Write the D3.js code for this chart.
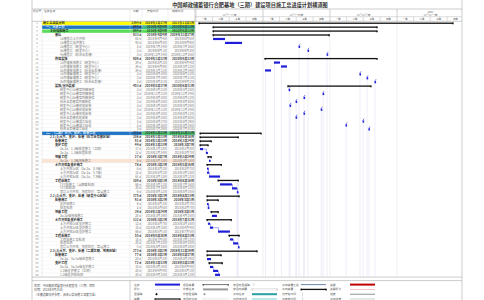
<!DOCTYPE html>
<html>
<head>
<meta charset="utf-8">
<script src="https://cdn.jsdelivr.net/npm/d3@7"></script>
<style>
  body { margin: 0; background: #fff; }
  svg { display: block; font-family: "Noto Sans CJK SC", "Noto Sans", sans-serif; }
</style>
</head>
<body>
<script>
// task table, one entry per row
const taskNames = [
  '施工总进度计划', '一、土建工程', '主体结构施工', '基坑',
  '1#楼基坑土方开挖', '1#楼基坑支护施工', '2#楼基坑（研发中心）', '3#楼基坑（研发中心）', '4#楼基坑（综合业务楼）',
  '外墙装饰', '1#外墙装饰施工（研发中心）', '2#外墙装饰施工（研发中心）', '3#外墙装饰施工（综合业务楼）',
  '1#外墙幕墙施工（研发中心）', '2#外墙幕墙施工（研发中心）', '3#外墙幕墙施工（综合业务楼）',
  '装饰/室内装修', '研发中心1#楼室内精装修', '研发中心2#楼室内精装修', '研发中心3#楼室内精装修', '综合业务楼室内精装修',
  '研发中心1#楼机电安装', '研发中心2#楼机电安装', '研发中心3#楼机电安装', '综合业务楼机电安装',
  '研发中心1#楼竣工验收', '研发中心2#楼竣工验收', '综合业务楼竣工验收',
  '二、（二期）土方、支护、桩基工程', '2.1 (1)土方、支护、桩基（综合业务楼区域）', '桩基施工', '支护工程',
  '3a-3a、1-3轴桩基施工（北侧）', '3a-3a、1-3轴桩基检测', '地板工程', '3a-3a、1-3轴地板施工',
  '土方开挖及支护施工', '土方开挖1#区（3a-3a、3-5轴）', '土方开挖2#区（3a-3a、5-7轴）', '土方开挖3#区（3a-3a、7-9轴）',
  '工程桩施工', 'CFG桩施工（含静载检测）', 'CFG桩检测', '基坑土方开挖、地基处理、垫层施工',
  '2.2 (2)土方、支护、桩基（研发中心区域）', '桩基施工', '支护桩施工', '桩基检测', '地板工程', '3a-3a轴地板施工',
  '土方开挖及支护施工', '土方开挖1#区支护施工', '土方开挖2#区支护施工', '土方开挖3#区支护施工',
  '工程桩施工', '工程桩施工及检测', '桩基检测', '基坑土方开挖、地基处理、垫层施工',
  '2.3 (3)土方、支护、桩基（二期北侧、地库区域）', '桩基施工', '3a-3a、5a-5a轴桩基施工', '支护工程',
  '3a-3a、5a-5a轴支护施工', '1-3轴支护施工（北侧）', '1-3轴支护桩检测'
];
const taskLevels = [
  0, 1, 2, 3, 4, 4, 4, 4, 4, 3, 4, 4, 4, 4, 4, 4, 3, 4, 4, 4, 4, 4, 4, 4, 4, 4, 4, 4,
  1, 2, 3, 3, 4, 4, 3, 4, 3, 4, 4, 4, 3, 4, 4, 4,
  2, 3, 4, 4, 3, 4, 3, 4, 4, 4, 3, 4, 4, 4,
  2, 3, 4, 3, 4, 4, 4
];
const durations = [
  1364, 894, 894, 633, 65, 93, 3, 3, 3, 606, 34, 34, 34, 3, 3, 3, 453,
  3, 3, 3, 3, 3, 3, 3, 3, 3, 3, 3,
  333, 208, 61, 44, 17, 12, 17, 6, 78, 6, 12, 61, 109, 66, 28, 6,
  175, 61, 6, 2, 39, 28, 132, 12, 18, 66, 55, 18, 28, 5,
  273, 77, 23, 72, 18, 28, 28
];
const starts = [
  '2018-01-17', '2018-04-04', '2018-04-04', '2018-04-04', '2018-04-04', '2018-06-08',
  '2019-07-14', '2019-09-01', '2019-12-14', '2019-01-12', '2019-03-02', '2019-04-09', '2019-01-12',
  '2020-06-10', '2020-07-19', '2020-08-31', '2019-05-17',
  '2019-05-21', '2019-11-22', '2019-08-10', '2019-06-28', '2019-05-26', '2019-11-12', '2019-08-10', '2019-06-28',
  '2020-06-27', '2020-03-26', '2020-07-29',
  '2018-01-23', '2018-01-23', '2018-01-23', '2018-01-23', '2018-01-23', '2018-02-24', '2018-03-07', '2018-03-13',
  '2018-03-02', '2018-03-02', '2018-03-02', '2018-03-13', '2018-05-01', '2018-05-12', '2018-07-16', '2018-08-12',
  '2018-03-02', '2018-03-02', '2018-03-02', '2018-03-06', '2018-03-24', '2018-03-29', '2018-03-02', '2018-03-07',
  '2018-03-18', '2018-05-01', '2018-06-30', '2018-07-05', '2018-07-22', '2018-08-18',
  '2018-03-02', '2018-03-02', '2018-03-02', '2018-03-13', '2018-03-18', '2018-04-04', '2018-04-15'
];
const finishes = [
  '2021-11-01', '2020-09-13', '2020-09-13', '2019-12-27', '2018-06-08', '2018-09-09',
  '2019-07-16', '2019-09-03', '2019-12-16', '2020-09-13', '2019-04-04', '2019-05-12', '2019-02-14',
  '2020-06-12', '2020-07-21', '2020-09-02', '2020-08-11',
  '2019-05-23', '2019-11-24', '2019-08-12', '2019-06-30', '2019-05-28', '2019-11-14', '2019-08-12', '2019-06-30',
  '2020-06-29', '2020-03-28', '2020-07-31',
  '2018-12-21', '2018-08-18', '2018-03-24', '2018-03-07', '2018-02-08', '2018-03-07', '2018-03-24', '2018-03-18',
  '2018-05-18', '2018-03-07', '2018-03-13', '2018-05-12', '2018-08-18', '2018-07-16', '2018-08-12', '2018-08-18',
  '2018-08-23', '2018-05-01', '2018-03-07', '2018-03-07', '2018-05-01', '2018-04-25', '2018-07-11', '2018-03-18',
  '2018-04-04', '2018-07-05', '2018-08-23', '2018-07-22', '2018-08-18', '2018-08-23',
  '2018-11-29', '2018-05-17', '2018-03-24', '2018-05-23', '2018-04-04', '2018-05-01', '2018-05-12'
];
// 1-based row numbers of summary rows
const summaryRows = [1, 2, 3, 4, 10, 17, 29, 30, 31, 32, 35, 37, 41, 45, 46, 49, 51, 55, 59, 60, 62];
// rows whose start drops a link line to the bottom of the chart
const dropRows = [7, 8, 9, 11, 12, 13, 14, 15, 16, 18, 19, 20, 21, 22, 23, 24, 25, 26, 27, 28];

const yearLabels = ['二〇一八年', '二〇一九年', '二〇二〇年', '二〇二一年'];
const quarterLabels = ['一季', '二季', '三季', '四季'];

const legendLabels = [
  ['任务', '拆分', '里程碑', '摘要'],
  ['项目摘要', '外部任务', '外部里程碑', '非活动任务'],
  ['非活动里程碑', '非活动摘要', '手动任务', '仅持续时间'],
  ['手动摘要汇总', '手动摘要', '仅开始时间', '仅完成时间'],
  ['关键', '关键拆分', '进度', '手动进度']
];
const legendKinds = [
  ['task', 'split', 'mile', 'summary'],
  ['psummary', 'ext', 'extmile', 'inact'],
  ['inactmile', 'inactsum', 'manual', 'duronly'],
  ['manualroll', 'manualsum', 'startonly', 'finishonly'],
  ['critical', 'critsplit', 'progress', 'manualprog']
];
const footNotes = ['项目：中国邮政储蓄银行合肥基地（三期）项目', '日期：2018年9月25日', '（本横道图仅供参考，具体以实际施工进度为准）'];

const W = 484, H = 300;
const L = 32, R = 462;
const colX = { id: 42, name: 130, dur: 142, start: 168, gantt: 195 };
const bodyTop = 21.3, bodyBottom = 276.8;

const parse = d3.timeParse('%Y-%m-%d');
const fmtDate = d => `${d.getFullYear()}年${d.getMonth() + 1}月${d.getDate()}日`;

const rows = taskNames.map((name, i) => ({
  row: i + 1,
  name: name,
  level: taskLevels[i],
  dur: durations[i],
  start: parse(starts[i]),
  end: parse(finishes[i]),
  summary: summaryRows.includes(i + 1)
}));

const x = d3.scaleTime()
  .domain([new Date(2018, 0, 1), new Date(2022, 0, 1)])
  .range([196, 464]);

const y = d3.scaleBand()
  .domain(rows.map(d => d.row))
  .range([bodyTop, bodyBottom]);

const svg = d3.select('body').append('svg')
  .attr('width', W).attr('height', H);

svg.append('defs').append('clipPath').attr('id', 'gclip')
  .append('rect').attr('x', colX.gantt).attr('y', 0).attr('width', R - colX.gantt).attr('height', H);

// title
svg.append('text')
  .attr('x', 250).attr('y', 6.8)
  .attr('text-anchor', 'middle')
  .attr('font-size', 5.2).attr('font-weight', 'bold').attr('fill', '#333')
  .text('中国邮政储蓄银行合肥基地（三期）建设项目施工总进度计划横道图');

// row backgrounds
const rowFill = { 1: '#ffff00', 2: '#1f74c4', 3: '#5bdc5b', 29: '#1f74c4', 36: '#fbe4d4' };
const dateFill = { 2: '#38b98a', 29: '#45c46a' };
rows.filter(d => rowFill[d.row]).forEach(d => {
  svg.append('rect')
    .attr('x', colX.id).attr('y', y(d.row) + 0.2)
    .attr('width', colX.gantt - colX.id).attr('height', y.bandwidth() - 0.4)
    .attr('fill', rowFill[d.row]);
  if (dateFill[d.row]) {
    svg.append('rect')
      .attr('x', colX.dur).attr('y', y(d.row) + 0.2)
      .attr('width', colX.gantt - colX.dur).attr('height', y.bandwidth() - 0.4)
      .attr('fill', dateFill[d.row]);
  }
});

// table row lines
svg.append('g').selectAll('line')
  .data(rows)
  .join('line')
  .attr('x1', L).attr('x2', colX.gantt)
  .attr('y1', d => y(d.row) + y.bandwidth()).attr('y2', d => y(d.row) + y.bandwidth())
  .attr('stroke', '#e8e8e8').attr('stroke-width', 0.3);

// year grid in gantt body
const years = d3.timeYear.range(new Date(2019, 0, 1), new Date(2022, 0, 1));
svg.append('g').attr('clip-path', 'url(#gclip)').selectAll('line')
  .data(years)
  .join('line')
  .attr('x1', d => x(d)).attr('x2', d => x(d))
  .attr('y1', 9).attr('y2', bodyBottom)
  .attr('stroke', '#e2e2e2').attr('stroke-width', 0.5);

// link lines dropping to the bottom
svg.append('g').selectAll('line')
  .data(rows.filter(d => dropRows.includes(d.row)))
  .join('line')
  .attr('x1', d => x(d.start) + 0.5).attr('x2', d => x(d.start) + 0.5)
  .attr('y1', d => y(d.row) + y.bandwidth() / 2 + 1).attr('y2', bodyBottom)
  .attr('stroke', '#e0e0f7').attr('stroke-width', 0.6);

svg.append('rect')
  .attr('x', x(parse('2018-08-12')) - 0.3).attr('y', y(42)).attr('width', 2)
  .attr('height', bodyBottom - y(42)).attr('fill', '#ebebfa');

// staircase links between consecutive tasks
const linkG = svg.append('g');
rows.forEach((d, i) => {
  const n = rows[i + 1];
  if (!n || d.summary || n.summary || d.row < 29) return;
  const x0 = x(d.end), y0 = y(d.row) + y.bandwidth() / 2;
  const x1 = Math.max(x(n.start) + 0.5, x0 + 0.6), y1 = y(n.row) + y.bandwidth() / 2 - 1;
  linkG.append('path')
    .attr('d', `M${x0},${y0}H${x1}V${y1}`)
    .attr('fill', 'none').attr('stroke', '#2a2ad8').attr('stroke-width', 0.4);
});

// bars
const barG = svg.append('g').attr('clip-path', 'url(#gclip)');
rows.forEach(d => {
  const cy = y(d.row) + y.bandwidth() / 2;
  const x0 = x(d.start), x1 = x(d.end);
  if (d.summary) {
    barG.append('rect')
      .attr('x', x0).attr('y', cy - 0.7).attr('width', x1 - x0).attr('height', 1.3)
      .attr('fill', '#111');
    [x0, x1].forEach(px => {
      barG.append('path')
        .attr('d', `M${px - 0.9},${cy - 0.7}h1.8v1.3l-0.9,1z`)
        .attr('fill', '#111');
    });
  } else {
    const w = Math.max(x1 - x0, 1.6);
    barG.append('rect')
      .attr('x', x0).attr('y', cy - 1.1).attr('width', w).attr('height', 2.2)
      .attr('fill', '#1e1ed8');
    if (d.dur <= 3) {
      barG.append('line')
        .attr('x1', x0 + 0.2).attr('y1', cy - 1)
        .attr('x2', x0 + 1.6).attr('y2', cy - 3)
        .attr('stroke', '#2a2ad8').attr('stroke-width', 0.6);
    }
  }
});

// table text
const txt = svg.append('g').attr('font-size', 3.1);
txt.selectAll('.rid')
  .data(rows)
  .join('text')
  .attr('class', 'rid')
  .attr('x', 37).attr('y', d => y(d.row) + y.bandwidth() / 2 + 1)
  .attr('text-anchor', 'middle').attr('font-size', 2.6).attr('fill', '#888')
  .text(d => d.row);

const nameColor = d => (d.row === 2 || d.row === 29) ? '#e8f4ff' : (d.summary ? '#222' : '#777');
txt.selectAll('.nm')
  .data(rows)
  .join('text')
  .attr('class', 'nm')
  .attr('x', d => 43 + [0, 3, 7, 12, 17][d.level])
  .attr('y', d => y(d.row) + y.bandwidth() / 2 + 1.1)
  .attr('font-weight', d => d.summary ? 'bold' : 'normal')
  .attr('fill', nameColor)
  .text(d => d.name);

txt.selectAll('.du')
  .data(rows)
  .join('text')
  .attr('class', 'du')
  .attr('x', colX.dur - 0.8).attr('y', d => y(d.row) + y.bandwidth() / 2 + 1.1)
  .attr('text-anchor', 'end')
  .attr('font-weight', d => d.summary ? 'bold' : 'normal')
  .attr('fill', d => d.summary ? '#333' : '#777')
  .text(d => `${d.dur} d`);

[['start', colX.start - 1], ['end', colX.gantt - 1]].forEach(([key, px]) => {
  txt.selectAll('.dt-' + key)
    .data(rows)
    .join('text')
    .attr('class', 'dt-' + key)
    .attr('x', px).attr('y', d => y(d.row) + y.bandwidth() / 2 + 1.1)
    .attr('text-anchor', 'end')
    .attr('font-weight', d => d.summary ? 'bold' : 'normal')
    .attr('fill', d => d.summary ? '#333' : '#777')
    .text(d => fmtDate(d[key]));
});

// header
const hdr = svg.append('g').attr('font-size', 2.8).attr('fill', '#555');
hdr.append('text').attr('x', 33).attr('y', 12).text('标识号');
hdr.append('text').attr('x', 44).attr('y', 12).text('任务名称');
hdr.append('text').attr('x', 133).attr('y', 12).text('工期');
hdr.append('text').attr('x', 147).attr('y', 12).text('开始时间');
hdr.append('text').attr('x', 172).attr('y', 12).text('完成时间');

const yearStarts = d3.timeYear.range(new Date(2018, 0, 1), new Date(2022, 0, 1));
const gh = svg.append('g').attr('clip-path', 'url(#gclip)').attr('fill', '#555');
gh.selectAll('.yl')
  .data(yearStarts)
  .join('text')
  .attr('class', 'yl')
  .attr('x', (d, i) => (x(d) + x(d3.timeYear.offset(d, 1))) / 2)
  .attr('y', 15.6).attr('text-anchor', 'middle').attr('font-size', 2.8)
  .text((d, i) => yearLabels[i]);
gh.append('text')
  .attr('x', (x(yearStarts[3]) + x(new Date(2022, 0, 1))) / 2).attr('y', 12.6)
  .attr('text-anchor', 'middle').attr('font-size', 2.4)
  .text('2021');

const quarters = d3.timeMonth.every(3).range(new Date(2018, 0, 1), new Date(2022, 0, 1));
gh.selectAll('.ql')
  .data(quarters)
  .join('text')
  .attr('class', 'ql')
  .attr('x', d => (x(d) + x(d3.timeMonth.offset(d, 3))) / 2)
  .attr('y', 20).attr('text-anchor', 'middle').attr('font-size', 2.3)
  .text(d => quarterLabels[Math.floor(d.getMonth() / 3)]);
gh.selectAll('.qt')
  .data(quarters)
  .join('line')
  .attr('class', 'qt')
  .attr('x1', d => x(d)).attr('x2', d => x(d))
  .attr('y1', 16.7).attr('y2', bodyTop)
  .attr('stroke', '#aaa').attr('stroke-width', 0.4);
gh.selectAll('.yt')
  .data(yearStarts)
  .join('line')
  .attr('class', 'yt')
  .attr('x1', d => x(d)).attr('x2', d => x(d))
  .attr('y1', 9).attr('y2', 16.7)
  .attr('stroke', '#aaa').attr('stroke-width', 0.4);

// frame and grid lines
const fr = svg.append('g').attr('stroke', '#9a9a9a').attr('stroke-width', 0.5);
fr.append('line').attr('x1', L).attr('x2', L).attr('y1', 0).attr('y2', H);
fr.append('line').attr('x1', R).attr('x2', R).attr('y1', 0).attr('y2', H);
[9, bodyTop, bodyBottom + 0.3, 280.6].forEach(py => {
  fr.append('line').attr('x1', L).attr('x2', R).attr('y1', py).attr('y2', py);
});
fr.append('line').attr('x1', colX.gantt).attr('x2', R).attr('y1', 16.7).attr('y2', 16.7).attr('stroke', '#bbb');
[colX.id, colX.name, colX.dur, colX.start].forEach(px => {
  fr.append('line').attr('x1', px).attr('x2', px).attr('y1', 9).attr('y2', bodyBottom)
    .attr('stroke', '#d4d4d4').attr('stroke-width', 0.4);
});
fr.append('line').attr('x1', colX.gantt).attr('x2', colX.gantt).attr('y1', 9).attr('y2', bodyBottom);

// legend
const lg = svg.append('g');
lg.append('line').attr('x1', colX.name).attr('x2', colX.name).attr('y1', 280.6).attr('y2', H)
  .attr('stroke', '#9a9a9a').attr('stroke-width', 0.5);
footNotes.forEach((t, i) => {
  lg.append('text').attr('x', 34).attr('y', 287 + i * 4.4)
    .attr('font-size', 2.9).attr('fill', '#555').text(t);
});
const labX = [134, 183, 233, 282, 330];
const symX = [155, 203, 252, 301, 350];
const symW = 25;
const drawSymbol = (kind, sx, cy) => {
  const bar = (h, fill, stroke) => lg.append('rect')
    .attr('x', sx).attr('y', cy - h / 2).attr('width', symW).attr('height', h)
    .attr('fill', fill).attr('stroke', stroke || 'none').attr('stroke-width', 0.3);
  const caps = (fill) => [sx, sx + symW].forEach(px => lg.append('path')
    .attr('d', `M${px - 0.8},${cy - 0.6}h1.6v1.2l-0.8,1z`).attr('fill', fill));
  const diamond = (fill, stroke) => lg.append('path')
    .attr('d', `M${sx + 1.5},${cy - 1.4}l1.3,1.4l-1.3,1.4l-1.3,-1.4z`)
    .attr('fill', fill).attr('stroke', stroke || 'none').attr('stroke-width', 0.3);
  switch (kind) {
    case 'task': bar(2, '#1e1ed8'); break;
    case 'split': bar(0.8, '#cfcff2'); break;
    case 'mile': diamond('#111'); break;
    case 'summary': bar(1.3, '#222'); caps('#222'); break;
    case 'psummary': bar(1, '#777'); caps('#555'); break;
    case 'ext': bar(2, '#9a9a9a'); break;
    case 'extmile': diamond('#999'); break;
    case 'inact': bar(1.8, '#fff', '#d0d0d0'); break;
    case 'inactmile': diamond('#fff', '#aaa'); break;
    case 'inactsum': bar(1.2, '#fff', '#bbb'); caps('#ccc'); break;
    case 'manual': bar(2, '#2aa0a4'); break;
    case 'duronly': bar(2, '#bfe6e8'); break;
    case 'manualroll': bar(1, '#6b88a6'); break;
    case 'manualsum': bar(1.3, '#111'); caps('#111'); break;
    case 'startonly': lg.append('text').attr('x', sx + 1).attr('y', cy + 1.1).attr('font-size', 3.2).attr('fill', '#333').text('['); break;
    case 'finishonly': lg.append('text').attr('x', sx + 1).attr('y', cy + 1.1).attr('font-size', 3.2).attr('fill', '#333').text(']'); break;
    case 'critical': bar(2, '#c00000'); break;
    case 'critsplit': bar(0.8, '#f2b8b8'); break;
    case 'progress': bar(0.8, '#7a7a7a'); break;
    case 'manualprog': bar(0.8, '#b8c8b8'); break;
  }
};
legendLabels.forEach((col, ci) => {
  col.forEach((label, ri) => {
    const cy = 284.6 + ri * 4.8;
    lg.append('text').attr('x', labX[ci]).attr('y', cy + 1)
      .attr('font-size', 2.8).attr('fill', '#555').text(label);
    drawSymbol(legendKinds[ci][ri], symX[ci], cy);
  });
});
</script>
</body>
</html>
